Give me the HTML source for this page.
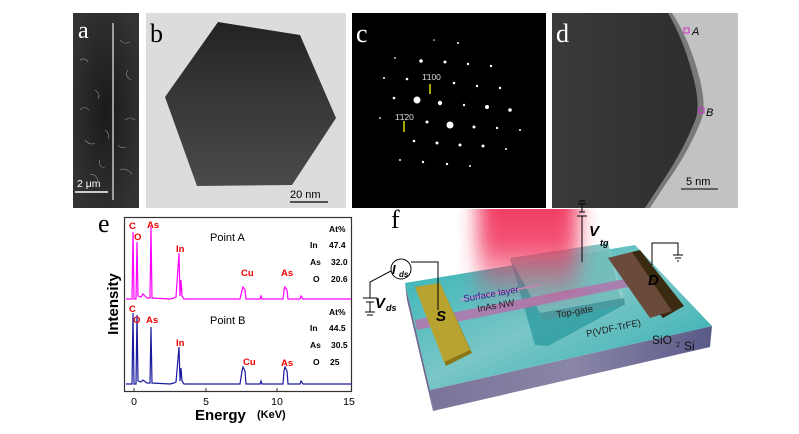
<!DOCTYPE html>
<html><head><meta charset="utf-8"><style>
html,body{margin:0;padding:0;background:#fff;}
body{width:799px;height:434px;overflow:hidden;position:relative;font-family:"Liberation Sans",sans-serif;}
svg{position:absolute;left:0;top:0;}
</style></head><body>
<svg width="799" height="434" viewBox="0 0 799 434" xmlns="http://www.w3.org/2000/svg">
<defs>
<radialGradient id="ga" cx="0.5" cy="0.5" r="0.6"><stop offset="0" stop-color="#1a1a1a"/><stop offset="1" stop-color="#333"/></radialGradient>
<linearGradient id="hex" x1="0" y1="0" x2="0" y2="1"><stop offset="0" stop-color="#222"/><stop offset="0.35" stop-color="#333"/><stop offset="1" stop-color="#4a4a4a"/></linearGradient>
<linearGradient id="dg" x1="0" y1="0" x2="1" y2="0"><stop offset="0" stop-color="#3a3a3a"/><stop offset="1" stop-color="#2e2e2e"/></linearGradient>
<linearGradient id="beam" x1="0" y1="0" x2="0" y2="1"><stop offset="0" stop-color="#f0305a" stop-opacity="1"/><stop offset="0.5" stop-color="#f0305a" stop-opacity="0.85"/><stop offset="1" stop-color="#f0305a" stop-opacity="0"/></linearGradient>
<filter id="blur" x="-50%" y="-20%" width="200%" height="140%"><feGaussianBlur stdDeviation="10"/></filter>
<clipPath id="bclip"><rect x="0" y="209" width="799" height="225"/></clipPath>
<linearGradient id="side" x1="0" y1="0" x2="1" y2="0"><stop offset="0" stop-color="#7a7498"/><stop offset="0.5" stop-color="#8a86a8"/><stop offset="1" stop-color="#5a5a88"/></linearGradient>
<linearGradient id="top" x1="0" y1="0" x2="1" y2="1"><stop offset="0" stop-color="#2fb3b6"/><stop offset="0.5" stop-color="#7ac6c6"/><stop offset="1" stop-color="#21a9ae"/></linearGradient>
</defs>

<!-- panel a -->
<rect x="73" y="13" width="66" height="195" fill="url(#ga)"/>
<g stroke="#aaa" stroke-width="0.6" fill="none" opacity="0.8">
<path d="M80 60 q5 -3 8 2 M120 40 q4 5 10 2 M95 90 q6 4 3 9 M125 120 q5 -4 10 0 M85 140 q5 6 10 3 M100 160 q-3 6 5 8 M120 170 q6 -3 12 4 M80 110 q4 -5 9 0 M128 70 q-4 6 3 10 M90 175 q6 -2 8 6 M105 130 q5 3 3 9 M118 145 q3 4 8 2"/>
</g>
<line x1="113" y1="23" x2="113" y2="200" stroke="#ddd" stroke-width="1.3"/>
<text x="78" y="38" font-family="Liberation Serif,serif" font-size="24" fill="#fff">a</text>
<text x="77" y="187" font-size="10.5" fill="#fff">2 μm</text>
<line x1="75" y1="192" x2="108" y2="192" stroke="#fff" stroke-width="1.5"/>

<!-- panel b -->
<rect x="146" y="13" width="200" height="195" fill="#dcdcdc"/>
<polygon points="218,22 300,35 336,118 292,185 197,186 165,97" fill="url(#hex)"/>
<text x="150" y="42" font-family="Liberation Serif,serif" font-size="26" fill="#000">b</text>
<text x="290" y="198" font-size="11" fill="#000">20 nm</text>
<line x1="290" y1="202" x2="328" y2="202" stroke="#000" stroke-width="1.2"/>

<!-- panel c -->
<rect x="352" y="13" width="194" height="195" fill="#000"/>
<g fill="#fff">
<circle cx="417" cy="100" r="3.5"/><circle cx="450" cy="125" r="3.5"/><circle cx="440" cy="103" r="2.2"/><circle cx="487" cy="107" r="2"/><circle cx="510" cy="110" r="1.8"/>
<circle cx="421" cy="61" r="1.8"/><circle cx="445" cy="62" r="1.5"/><circle cx="468" cy="64" r="1.2"/><circle cx="491" cy="66" r="1.2"/>
<circle cx="407" cy="79" r="1.3"/><circle cx="454" cy="83" r="1.3"/><circle cx="477" cy="86" r="1.2"/><circle cx="500" cy="88" r="1.2"/>
<circle cx="394" cy="98" r="1.3"/><circle cx="464" cy="105" r="1.2"/><circle cx="427" cy="122" r="1.5"/><circle cx="474" cy="127" r="1.5"/><circle cx="497" cy="128" r="1.2"/><circle cx="520" cy="130" r="1"/>
<circle cx="414" cy="141" r="1.3"/><circle cx="437" cy="143" r="1.5"/><circle cx="460" cy="145" r="1.5"/><circle cx="483" cy="146" r="1.5"/><circle cx="506" cy="149" r="1"/>
<circle cx="400" cy="160" r="1"/><circle cx="423" cy="162" r="1.2"/><circle cx="447" cy="164" r="1.2"/><circle cx="470" cy="166" r="1"/><circle cx="384" cy="78" r="1"/><circle cx="380" cy="118" r="0.9"/><circle cx="395" cy="58" r="0.9"/><circle cx="434" cy="40" r="0.8"/><circle cx="458" cy="43" r="1"/>
</g>
<text x="422" y="80" font-size="8.5" fill="#ddd">1̄100</text>
<line x1="430" y1="94" x2="430" y2="84" stroke="#ff0" stroke-width="1.3"/>
<text x="395" y="120" font-size="8.5" fill="#ddd">1̄1̄20</text>
<line x1="404" y1="132" x2="404" y2="121" stroke="#ff0" stroke-width="1.3"/>
<text x="356" y="42" font-family="Liberation Serif,serif" font-size="26" fill="#fff">c</text>

<!-- panel d -->
<rect x="552" y="13" width="186" height="195" fill="#c2c2c2"/>
<path d="M552 13 L672 13 Q690 40 700 80 Q706 105 702 118 Q690 150 665 185 L650 208 L552 208 Z" fill="#7a7a7a"/>
<path d="M552 13 L668 13 Q684 40 694 80 Q700 105 696 118 Q684 150 660 185 L645 208 L552 208 Z" fill="url(#dg)"/>
<text x="556" y="42" font-family="Liberation Serif,serif" font-size="26" fill="#fff">d</text>
<rect x="684" y="28" width="5" height="5" fill="none" stroke="#d030d0" stroke-width="1"/>
<text x="692" y="35" font-size="11" font-style="italic" fill="#000">A</text>
<rect x="699" y="108" width="5" height="5" fill="none" stroke="#d030d0" stroke-width="1"/>
<text x="706" y="116" font-size="11" font-style="italic" fill="#000">B</text>
<text x="686" y="185" font-size="11" fill="#000">5 nm</text>
<line x1="681" y1="189" x2="718" y2="189" stroke="#000" stroke-width="1"/>

<!-- panel e -->
<text x="98" y="232" font-family="Liberation Serif,serif" font-size="26" fill="#000">e</text>
<rect x="124.5" y="217.5" width="227" height="174" fill="none" stroke="#333" stroke-width="1.2"/>
<g font-size="10.5" fill="#000" text-anchor="middle">
<text x="134" y="405">0</text><text x="206" y="405">5</text><text x="277" y="405">10</text><text x="349" y="405">15</text>
</g>
<g stroke="#333" stroke-width="1"><line x1="134" y1="391" x2="134" y2="388"/><line x1="206" y1="391" x2="206" y2="388"/><line x1="277" y1="391" x2="277" y2="388"/></g>
<text x="195" y="420" font-size="15" font-weight="bold" fill="#000">Energy</text>
<text x="257" y="418" font-size="11" font-weight="bold" fill="#000">(KeV)</text>
<text transform="translate(118,304) rotate(-90)" font-size="15" font-weight="bold" text-anchor="middle" fill="#000">Intensity</text>
<path d="M126 299 L132 299 L133 232 L134 299 L136 299 L137 242 L138 296 L141 297 L143 294 L147 298 L150 298 L151 227 L152 298 L170 299 L174 298 L176 297 L179 253 L180 296 L181 280 L182 296 L184 299 L240 299 L242 290 L243 287 L245 290 L246 299 L260 299 L261 296 L262 299 L283 299 L284 290 L285 287 L287 290 L288 299 L300 299 L301 296 L303 299 L351 299" fill="none" stroke="#f0f" stroke-width="1.2"/>
<path d="M126 384 L132 384 L133 313 L134 384 L136 384 L137 315 L138 381 L141 382 L143 380 L147 383 L150 383 L151 327 L152 383 L170 384 L174 383 L176 382 L179 347 L180 381 L181 368 L182 381 L184 384 L240 384 L242 371 L243 367 L245 371 L246 384 L260 384 L261 381 L262 384 L283 384 L284 371 L285 367 L287 371 L288 384 L300 384 L301 381 L303 384 L351 384" fill="none" stroke="#1a1aa0" stroke-width="1.2"/>
<g font-size="9.5" font-weight="bold" fill="#e00">
<text x="129" y="229">C</text><text x="134" y="240">O</text><text x="147" y="228">As</text><text x="176" y="252">In</text><text x="241" y="276">Cu</text><text x="281" y="276">As</text>
<text x="129" y="312">C</text><text x="133" y="323">O</text><text x="146" y="323">As</text><text x="176" y="346">In</text><text x="243" y="365">Cu</text><text x="281" y="366">As</text>
</g>
<g font-size="11" fill="#000"><text x="210" y="241">Point A</text><text x="210" y="324">Point B</text></g>
<g font-size="8.5" font-weight="bold" fill="#000">
<text x="329" y="232">At%</text><text x="310" y="248">In</text><text x="329" y="248">47.4</text><text x="310" y="265">As</text><text x="331" y="265">32.0</text><text x="313" y="282">O</text><text x="331" y="282">20.6</text>
<text x="329" y="315">At%</text><text x="310" y="331">In</text><text x="329" y="331">44.5</text><text x="310" y="348">As</text><text x="331" y="348">30.5</text><text x="313" y="365">O</text><text x="330" y="365">25</text>
</g>

<!-- panel f -->
<text x="391" y="228" font-family="Liberation Serif,serif" font-size="26" fill="#000">f</text>
<polygon points="405,283 430,390 433,411 407,300" fill="#6e6a92"/>
<polygon points="430,390 712,326 710,347 433,411" fill="url(#side)"/>
<polygon points="405,283 635,245 712,326 430,390" fill="url(#top)"/>
<polygon points="510,258 608,243 622,306 548,346 535,345" fill="#2a9aa0" opacity="0.75"/>
<polygon points="510,258 608,243 624,298 540,313" fill="#9ad0cc" opacity="0.6"/>
<polygon points="540,313 624,298 625,305 543,320" fill="#4a9aa0"/>
<polygon points="415,320 630,278 633,286 417,330" fill="#a880b0"/>
<line x1="460" y1="300" x2="540" y2="285" stroke="#c8a0d0" stroke-width="1.5"/>
<polygon points="415,287 440,283 472,353 446,366" fill="#8a7818"/>
<polygon points="415,287 440,283 470,350 444,362" fill="#b8a330"/>
<polygon points="608,258 640,250 684,306 663,318" fill="#3a2a10"/>
<polygon points="608,258 632,252 672,311 650,318" fill="#6a4a3a"/>
<!-- beam -->
<g clip-path="url(#bclip)"><rect x="478" y="180" width="100" height="125" fill="url(#beam)" filter="url(#blur)"/></g>
<g font-size="9.5" fill="#222">
<text x="464" y="302" transform="rotate(-10 464 302)" fill="#3a1a8a">Surface layer</text>
<text x="478" y="312" transform="rotate(-10 478 312)">InAs NW</text>
<text x="557" y="318" transform="rotate(-10 557 318)">Top-gate</text>
<text x="587" y="337" transform="rotate(-12 587 337)">P(VDF-TrFE)</text>
</g>
<text x="652" y="344" font-size="12" fill="#111">SiO</text><text x="676" y="347" font-size="7" fill="#111">2</text>
<text x="684" y="350" font-size="12" fill="#111">Si</text>
<text x="436" y="321" font-size="15" font-weight="bold" font-style="italic" fill="#000">S</text>
<text x="648" y="285" font-size="15" font-weight="bold" font-style="italic" fill="#000">D</text>
<g stroke="#000" stroke-width="1" fill="none">
<circle cx="401" cy="269" r="10"/>
<path d="M411 262 L438 262 L438 310 M391 271 L370 282 L370 298 M363 298 L377 298 M366 302 L374 302 M370 302 L370 312 M365 312 L375 312 M367 315 L373 315"/>
<path d="M582 216 L582 262 M577 216 L587 216 M579 212 L585 212 M582 212 L582 204 M578 204 L586 204 M579 201 L585 201"/>
<path d="M652 265 L652 243 L678 243 L678 255 M673 255 L683 255 M675 258 L681 258 M677 261 L679 261"/>
</g>
<text x="392" y="274" font-size="13" font-weight="bold" font-style="italic" fill="#000">I</text><text x="399" y="277" font-size="8" font-weight="bold" font-style="italic" fill="#000">ds</text>
<text x="375" y="308" font-size="15" font-weight="bold" font-style="italic" fill="#000">V</text><text x="386" y="311" font-size="9" font-weight="bold" font-style="italic" fill="#000">ds</text>
<text x="589" y="236" font-size="15" font-weight="bold" font-style="italic" fill="#000">V</text><text x="600" y="246" font-size="9" font-weight="bold" font-style="italic" fill="#000">tg</text>
</svg>
</body></html>
